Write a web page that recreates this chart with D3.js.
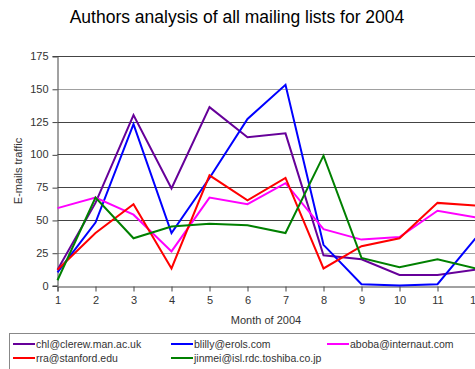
<!DOCTYPE html>
<html><head><meta charset="utf-8">
<script src="https://cdn.jsdelivr.net/npm/d3@7/dist/d3.min.js"></script>
<style>body{margin:0;background:#fff;}svg{display:block;font-family:Arial,"Liberation Sans",sans-serif;}</style>
</head><body>
<svg id="c" width="475" height="369"></svg>
<script>
const months = [1,2,3,4,5,6,7,8,9,10,11,12];
const yTicks = [0,25,50,75,100,125,150,175];
const seriesNames = ["chl@clerew.man.ac.uk","blilly@erols.com","aboba@internaut.com","rra@stanford.edu","jinmei@isl.rdc.toshiba.co.jp"];
const seriesColors = ["#660099","#0000ff","#ff00ff","#ff0000","#008000"];
const chl    = [12,63,130,74,136,113,116,23,20,8,8,12];
const blilly = [10,48,123,40,82,127,153,31,1,0,1,36];
const aboba  = [59,67,54,26,67,62,78,43,35,37,57,52];
const rra    = [12,40,62,13,84,65,82,13,30,36,63,61];
const jinmei = [4,67,36,45,47,46,40,99,21,14,20,13];
const seriesValues = [chl,blilly,aboba,rra,jinmei];

const svg = d3.select("#c");
const x = d3.scaleLinear().domain([1,12]).range([57.5,475.5]);
const y = d3.scaleLinear().domain([0,175]).range([285.5,56]);

svg.append("text").attr("x",237).attr("y",23).attr("text-anchor","middle")
  .attr("font-size",17.5).attr("fill","#000").text("Authors analysis of all mailing lists for 2004");

// gridlines
svg.append("g").selectAll("line").data(yTicks.filter(d=>d>0)).join("line")
  .attr("x1",57.5).attr("x2",475).attr("y1",d=>Math.round(y(d))+0.5).attr("y2",d=>Math.round(y(d))+0.5)
  .attr("stroke",d=>(d===150||d===25)?"#a0a0a0":"#444").attr("stroke-width",1);

const yAxis = svg.append("g").attr("transform","translate(57.5,0)")
  .call(d3.axisLeft(y).tickValues(yTicks).tickSize(5).tickPadding(4));
const xAxis = svg.append("g").attr("transform","translate(0,"+(Math.round(y(0))+0.5)+")")
  .call(d3.axisBottom(x).tickValues(months).tickSize(5).tickPadding(5));
[yAxis,xAxis].forEach(a=>{
  a.select(".domain").attr("stroke","#444");
  a.selectAll(".tick line").attr("stroke","#444");
  a.selectAll("text").attr("font-size",11).attr("fill","#333").attr("font-family","Arial, 'Liberation Sans', sans-serif");
});
yAxis.selectAll(".tick line").each(function(){ d3.select(this).attr("y1",0.5).attr("y2",0.5); });

svg.append("text").attr("transform","translate(22,171) rotate(-90)").attr("text-anchor","middle")
  .attr("font-size",11).attr("fill","#333").text("E-mails traffic");
svg.append("text").attr("x",266).attr("y",324).attr("text-anchor","middle")
  .attr("font-size",11).attr("fill","#333").text("Month of 2004");

const line = d3.line().x((d,i)=>x(months[i])).y(d=>y(d));
svg.append("g").selectAll("path").data(seriesValues).join("path")
  .attr("d",line).attr("fill","none").attr("stroke",(d,i)=>seriesColors[i])
  .attr("stroke-width",2).attr("stroke-linejoin","miter");

// legend
svg.append("rect").attr("x",9.5).attr("y",333.5).attr("width",480).attr("height",50)
  .attr("fill","#fff").attr("stroke","#888");
const lx = [13,171,327], ly = [344,358];
const pos = [[0,0],[1,0],[2,0],[0,1],[1,1]];
const lg = svg.append("g").selectAll("g").data(seriesNames).join("g")
  .attr("transform",(d,i)=>"translate("+lx[pos[i][0]]+","+ly[pos[i][1]]+")");
lg.append("line").attr("x1",0).attr("x2",22).attr("y1",0).attr("y2",0)
  .attr("stroke",(d,i)=>seriesColors[i]).attr("stroke-width",2);
lg.append("text").attr("x",23).attr("y",4).attr("font-size",10.5).attr("fill","#333").text(d=>d);
</script>
</body></html>
